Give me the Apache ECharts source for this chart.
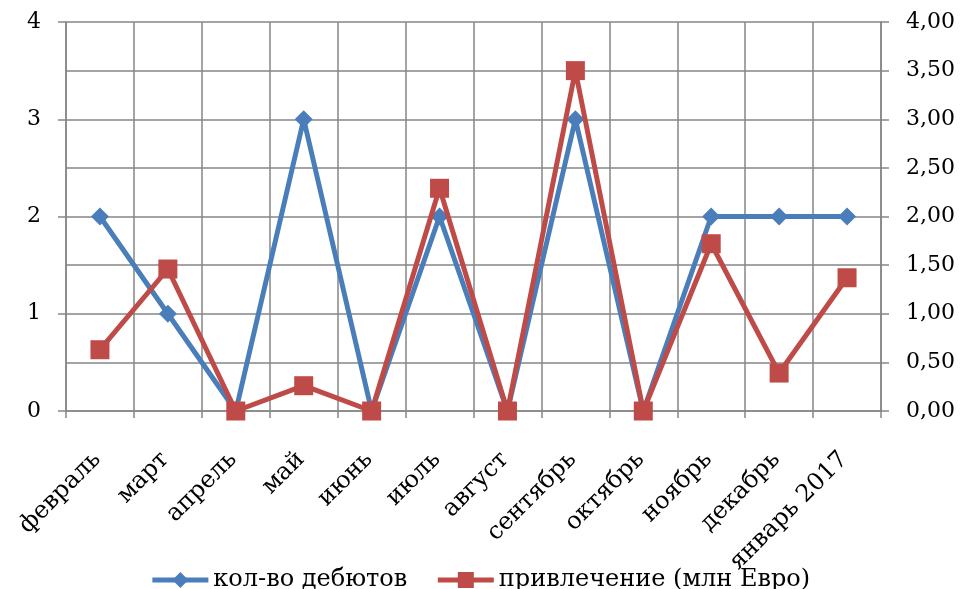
<!DOCTYPE html>
<html>
<head>
<meta charset="utf-8">
<script src="https://cdn.jsdelivr.net/npm/echarts@6/dist/echarts.min.js"></script>
<style>html,body{margin:0;padding:0;background:#fff}#c{width:960px;height:589px}</style>
</head>
<body>
<div id="c"></div>
<script>
var categories = ['февраль','март','апрель','май','июнь','июль','август','сентябрь','октябрь','ноябрь','декабрь','январь 2017'];
var debuts = [2,1,0,3,0,2,0,3,0,2,2,2];
var raised = [0.63,1.46,0,0.26,0,2.29,0,3.5,0,1.72,0.39,1.37];
var leftTicks = [0,1,2,3,4];
var rightTicks = ['0,00','0,50','1,00','1,50','2,00','2,50','3,00','3,50','4,00'];
var seriesNames = ['кол-во дебютов','привлечение (млн Евро)'];

var FONT = 'DejaVu Serif';
var BLUE = '#4A7EBB', RED = '#BE4B48';
var chart = echarts.init(document.getElementById('c'), null, {renderer:'canvas'});
var gridColor = '#868686';
chart.setOption({
  animation:false,
  textStyle:{fontFamily:FONT},
  grid:{left:66,right:79,top:22,bottom:178,containLabel:false},
  legend:{
    top:563,left:'center',itemWidth:56,itemHeight:20,itemGap:28,
    textStyle:{fontFamily:FONT,fontSize:24,color:'#000'},
    data:[
      {name:seriesNames[0],lineStyle:{width:5,color:BLUE},itemStyle:{color:BLUE}},
      {name:seriesNames[1],lineStyle:{width:5,color:RED},itemStyle:{color:RED}}
    ]
  },
  xAxis:{
    type:'category',data:categories,boundaryGap:true,
    axisLine:{lineStyle:{color:gridColor,width:1.5}},
    axisTick:{show:true,length:7,lineStyle:{color:gridColor,width:1.5}},
    splitLine:{show:true,lineStyle:{color:gridColor,width:1.5}},
    axisLabel:{rotate:45,fontFamily:FONT,fontSize:24,color:'#000',margin:42,interval:0,padding:[0,4,0,0]}
  },
  yAxis:[{
    type:'value',min:0,max:4,interval:1,position:'left',
    axisLine:{show:true,lineStyle:{color:gridColor,width:1.5}},
    axisTick:{show:true,length:8,lineStyle:{color:gridColor,width:1.5}},
    splitLine:{show:false},
    axisLabel:{fontFamily:FONT,fontSize:22,color:'#000',margin:25,
      formatter:function(v){return String(leftTicks[Math.round(v)]);}}
  },{
    type:'value',min:0,max:4,interval:0.5,position:'right',
    axisLine:{show:true,lineStyle:{color:gridColor,width:1.5}},
    axisTick:{show:true,length:8,lineStyle:{color:gridColor,width:1.5}},
    splitLine:{show:true,lineStyle:{color:gridColor,width:1.5}},
    axisLabel:{fontFamily:FONT,fontSize:22,color:'#000',margin:25,
      formatter:function(v){return rightTicks[Math.round(v*2)];}}
  }],
  series:[{
    name:seriesNames[0],type:'line',yAxisIndex:0,data:debuts,
    symbol:'diamond',symbolSize:18,
    lineStyle:{color:BLUE,width:5},
    itemStyle:{color:BLUE},z:2
  },{
    name:seriesNames[1],type:'line',yAxisIndex:1,data:raised,
    symbol:'rect',symbolSize:19,
    lineStyle:{color:RED,width:5},
    itemStyle:{color:RED},z:3
  }]
});
</script>
</body>
</html>
